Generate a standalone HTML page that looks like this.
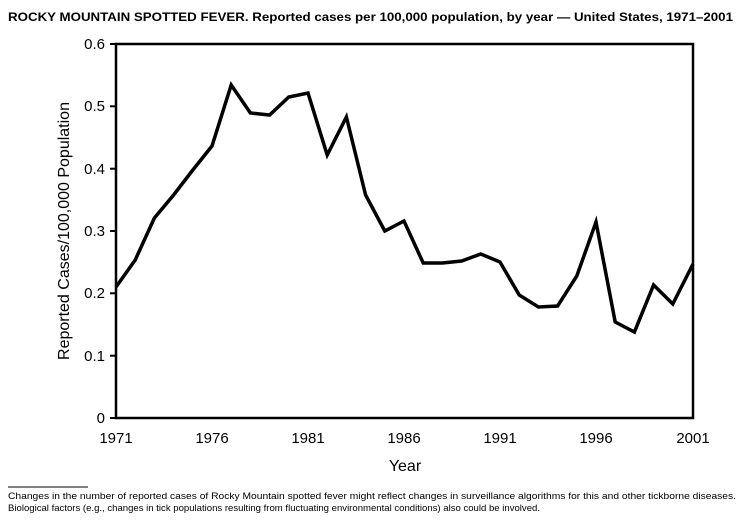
<!DOCTYPE html>
<html><head><style>body{margin:0;background:#fff}svg{display:block}</style></head><body>
<svg width="743" height="528" xmlns="http://www.w3.org/2000/svg" font-family="Liberation Sans, Arial, sans-serif">
<rect width="743" height="528" fill="#fff"/>
<text x="8" y="21" font-size="11.5" font-weight="bold" textLength="725" lengthAdjust="spacingAndGlyphs">ROCKY MOUNTAIN SPOTTED FEVER. Reported cases per 100,000 population, by year — United States, 1971–2001</text>
<rect x="116" y="44" width="577" height="374" fill="none" stroke="#000" stroke-width="2.5"/>
<g stroke="#000" stroke-width="2">
<line x1="110" y1="44" x2="116" y2="44"/><line x1="110" y1="106.3" x2="116" y2="106.3"/><line x1="110" y1="168.7" x2="116" y2="168.7"/><line x1="110" y1="231" x2="116" y2="231"/><line x1="110" y1="293.3" x2="116" y2="293.3"/><line x1="110" y1="355.7" x2="116" y2="355.7"/><line x1="110" y1="418" x2="116" y2="418"/>
</g>
<g stroke="#000" stroke-width="1.5" id="xt"></g>
<g font-size="15" text-anchor="end">
<text x="105" y="49">0.6</text><text x="105" y="111">0.5</text><text x="105" y="174">0.4</text><text x="105" y="236">0.3</text><text x="105" y="298">0.2</text><text x="105" y="361">0.1</text><text x="105" y="423">0</text>
</g>
<g font-size="15" text-anchor="middle">
<text x="116" y="443">1971</text><text x="212" y="443">1976</text><text x="308" y="443">1981</text><text x="404" y="443">1986</text><text x="500" y="443">1991</text><text x="596" y="443">1996</text><text x="693" y="443">2001</text>
<text x="405" y="471" font-size="16">Year</text>
<text transform="translate(69,231) rotate(-90)" font-size="16">Reported Cases/100,000 Population</text>
</g>
<polyline fill="none" stroke="#000" stroke-width="3.5" stroke-linejoin="miter" points="116,287 135.2,260 154.4,218 173.6,195 192.8,170 212,146 231.2,85 250.4,113 269.6,115 288.8,97 308,93 327.2,155 346.4,117 365.6,195 384.8,231 404,221 423.2,263 442.4,263 461.6,261 480.8,254 500,262 519.2,295 538.4,307 557.6,306 576.8,276 596,222 615.2,322 634.4,332 653.6,285 672.8,304 693,264"/>
<line x1="8" y1="487" x2="88" y2="487" stroke="#000" stroke-width="1"/>
<text x="8" y="499" font-size="9.5" textLength="728" lengthAdjust="spacingAndGlyphs">Changes in the number of reported cases of Rocky Mountain spotted fever might reflect changes in surveillance algorithms for this and other tickborne diseases.</text>
<text x="8" y="511" font-size="9.5" textLength="532" lengthAdjust="spacingAndGlyphs">Biological factors (e.g., changes in tick populations resulting from fluctuating environmental conditions) also could be involved.</text>
<script>
var g=document.getElementById('xt'),s='';
for(var i=0;i<=30;i++){var x=116+i*577/30,l=(i%5==0)?6:3;s+='<line x1="'+x+'" y1="418" x2="'+x+'" y2="'+(419+l)+'"/>';}
g.innerHTML=s;
</script>
</svg>
</body></html>
